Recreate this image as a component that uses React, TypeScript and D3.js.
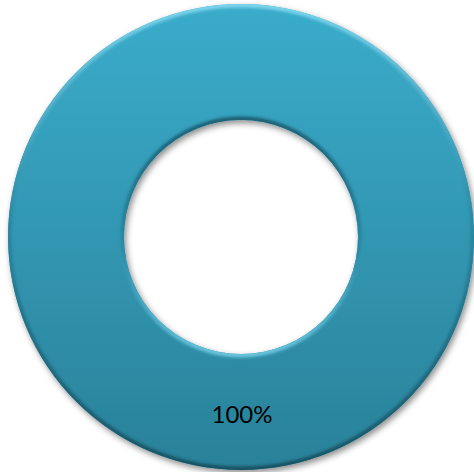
import { useEffect, useRef } from 'react';
import * as d3 from 'd3';

const categories = ['Share'];
const values = [100];
const labels = ['100%'];

export default function App() {
  const svgRef = useRef<SVGSVGElement>(null);

  useEffect(() => {
    if (!svgRef.current) return;
    const width = 474;
    const height = 472;
    const cx = 241;
    const cy = 237;
    const outer = 233;
    const inner = 117;

    const svg = d3.select(svgRef.current);
    svg.selectAll('*').remove();
    svg.attr('width', width).attr('height', height);

    const defs = svg.append('defs');

    // main fill: lighter at the top, darker at the bottom
    const fill = defs.append('linearGradient').attr('id', 'ringFill')
      .attr('x1', 0).attr('y1', 0).attr('x2', 0).attr('y2', 1);
    fill.append('stop').attr('offset', '0%').attr('stop-color', '#3aaccb');
    fill.append('stop').attr('offset', '100%').attr('stop-color', '#2a8199');

    const outerRim = defs.append('linearGradient').attr('id', 'outerRim')
      .attr('x1', 0).attr('y1', 0).attr('x2', 0).attr('y2', 1);
    outerRim.append('stop').attr('offset', '0%').attr('stop-color', '#7fd6ee');
    outerRim.append('stop').attr('offset', '45%').attr('stop-color', '#2a8aa5');
    outerRim.append('stop').attr('offset', '100%').attr('stop-color', '#174f60');

    const innerRim = defs.append('linearGradient').attr('id', 'innerRim')
      .attr('x1', 0).attr('y1', 0).attr('x2', 0).attr('y2', 1);
    innerRim.append('stop').attr('offset', '0%').attr('stop-color', '#1a5c70');
    innerRim.append('stop').attr('offset', '55%').attr('stop-color', '#2a8aa5');
    innerRim.append('stop').attr('offset', '100%').attr('stop-color', '#6cc8e0');

    const shadow = defs.append('filter').attr('id', 'shadow')
      .attr('x', '-10%').attr('y', '-10%').attr('width', '120%').attr('height', '120%');
    shadow.append('feDropShadow').attr('dx', 2).attr('dy', 3)
      .attr('stdDeviation', 3).attr('flood-color', '#000').attr('flood-opacity', 0.45);

    const soft = defs.append('filter').attr('id', 'soft');
    soft.append('feGaussianBlur').attr('stdDeviation', 1.6);

    const pie = d3.pie<number>().sort(null).value((d) => d);
    const arcs = pie(values);
    const arc = d3.arc<d3.PieArcDatum<number>>().innerRadius(inner).outerRadius(outer);

    defs.append('clipPath').attr('id', 'ringClip')
      .selectAll('path').data(arcs).join('path')
      .attr('transform', `translate(${cx},${cy})`)
      .attr('d', arc);

    const g = svg.append('g').attr('transform', `translate(${cx},${cy})`);

    g.selectAll('path.slice')
      .data(arcs)
      .join('path')
      .attr('class', 'slice')
      .attr('d', arc)
      .attr('fill', 'url(#ringFill)')
      .attr('filter', 'url(#shadow)')
      .append('title')
      .text((_, i) => categories[i]);

    // bevel edges
    const bevel = svg.append('g').attr('clip-path', 'url(#ringClip)');
    bevel.append('circle')
      .attr('cx', cx).attr('cy', cy).attr('r', outer - 1)
      .attr('fill', 'none').attr('stroke', 'url(#outerRim)')
      .attr('stroke-width', 5).attr('filter', 'url(#soft)');
    bevel.append('circle')
      .attr('cx', cx).attr('cy', cy).attr('r', inner + 1)
      .attr('fill', 'none').attr('stroke', 'url(#innerRim)')
      .attr('stroke-width', 5).attr('filter', 'url(#soft)');

    g.selectAll('text.label')
      .data(arcs)
      .join('text')
      .attr('class', 'label')
      .attr('x', 1)
      .attr('y', 186)
      .attr('text-anchor', 'middle')
      .style('font-family', 'Lato, "Open Sans", sans-serif')
      .style('font-size', '24px')
      .style('fill', '#000')
      .text((_, i) => labels[i]);
  }, []);

  return (
    <div style={{ position: 'absolute', left: 0, top: 0 }}>
      <svg ref={svgRef} style={{ display: 'block' }} />
    </div>
  );
}
